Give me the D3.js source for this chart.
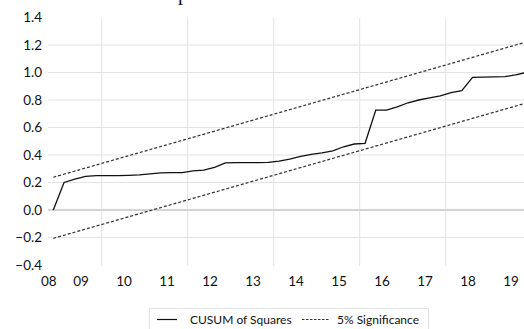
<!DOCTYPE html>
<html>
<head>
<meta charset="utf-8">
<script src="https://cdn.jsdelivr.net/npm/d3@7"></script>
<style>
  body { margin: 0; background: #fff; }
  svg { display: block; }
</style>
</head>
<body>
<div id="chart"></div>
<script>
// Quarter index of each observation (0 = first quarter of the sample)
var quarterIdx = d3.range(0, 45);

// CUSUM of squares, one value per quarter
var cusum = [0, 0.20, 0.225, 0.245, 0.25, 0.25, 0.25, 0.252, 0.255, 0.262,
  0.27, 0.272, 0.272, 0.285, 0.29, 0.31, 0.342, 0.345, 0.345, 0.345,
  0.346, 0.355, 0.37, 0.39, 0.405, 0.415, 0.43, 0.46, 0.48, 0.485,
  0.727, 0.727, 0.75, 0.78, 0.80, 0.815, 0.83, 0.853, 0.868, 0.965,
  0.967, 0.968, 0.97, 0.982, 1.0];

// 5% significance bands (straight lines, start and end of sample)
var bandIdx = [0, 44];
var upperBand = [0.238, 1.222];
var lowerBand = [-0.206, 0.778];

// axis ticks
var yTicks = [1.4, 1.2, 1.0, 0.8, 0.6, 0.4, 0.2, 0.0, -0.2, -0.4];
var yGrid = [1.2, 1.0, 0.8, 0.6, 0.4, 0.2, -0.2];
var xLabels = ["08", "09", "10", "11", "12", "13", "14", "15", "16", "17", "18", "19"];
var xLabelIdx = [0, 3, 7, 11, 15, 19, 23, 27, 31, 35, 39, 43];
var xGrid = [4.5, 12.5, 20.5, 28.5, 36.5];

var width = 524, height = 329;
var plot = { left: 48, right: 524, top: 18, bottom: 266 };

var svg = d3.select("#chart")
  .append("svg")
  .attr("width", width)
  .attr("height", height);

var x = d3.scaleLinear()
  .domain([0, 44])
  .range([53.3, 526.3]);

var y = d3.scaleLinear()
  .domain([-0.4, 1.4])
  .range([265, 17.5]);

var font = "Lato, 'Open Sans', sans-serif";

// cropped title fragment at the very top (only its descender shows)
svg.append("text")
  .attr("x", 178)
  .attr("y", -0.5)
  .attr("font-family", "'Liberation Serif', serif")
  .attr("font-size", 20)
  .attr("fill", "#111")
  .text("p");

// gridlines
svg.selectAll(".hgrid")
  .data(yGrid)
  .enter()
  .append("line")
  .attr("x1", plot.left)
  .attr("x2", plot.right)
  .attr("y1", function(d) { return y(d); })
  .attr("y2", function(d) { return y(d); })
  .attr("stroke", "#e3e3e3")
  .attr("stroke-width", 1);

svg.selectAll(".vgrid")
  .data(xGrid)
  .enter()
  .append("line")
  .attr("x1", function(d) { return x(d); })
  .attr("x2", function(d) { return x(d); })
  .attr("y1", plot.top)
  .attr("y2", plot.bottom)
  .attr("stroke", "#e3e3e3")
  .attr("stroke-width", 1);

// zero axis line
svg.append("line")
  .attr("x1", plot.left)
  .attr("x2", plot.right)
  .attr("y1", y(0))
  .attr("y2", y(0))
  .attr("stroke", "#d4d4d4")
  .attr("stroke-width", 2);

// y labels
svg.selectAll(".ylab")
  .data(yTicks)
  .enter()
  .append("text")
  .attr("x", 42)
  .attr("y", function(d) { return y(d); })
  .attr("dy", "0.36em")
  .attr("text-anchor", "end")
  .attr("font-family", font)
  .attr("font-size", 13.5)
  .attr("fill", "#111")
  .text(function(d) { return d3.format(".1f")(d); });

// x labels
svg.selectAll(".xlab")
  .data(xLabels)
  .enter()
  .append("text")
  .attr("x", function(d, i) { return x(xLabelIdx[i]) - 4.5; })
  .attr("y", 285.5)
  .attr("text-anchor", "middle")
  .attr("font-family", font)
  .attr("font-size", 13.5)
  .attr("fill", "#111")
  .text(function(d) { return d; });

// bands
var band = d3.line()
  .x(function(d, i) { return x(bandIdx[i]); })
  .y(function(d) { return y(d); });

[upperBand, lowerBand].forEach(function(b) {
  svg.append("path")
    .datum(b)
    .attr("d", band)
    .attr("fill", "none")
    .attr("stroke", "#333")
    .attr("stroke-width", 1.2)
    .attr("stroke-dasharray", "3,2");
});

// CUSUM line
var line = d3.line()
  .x(function(d, i) { return x(quarterIdx[i]); })
  .y(function(d) { return y(d); });

svg.append("path")
  .datum(cusum)
  .attr("d", line)
  .attr("fill", "none")
  .attr("stroke", "#111")
  .attr("stroke-width", 1.3);

// legend
var legend = svg.append("g");
legend.append("rect")
  .attr("x", 149.5)
  .attr("y", 308.5)
  .attr("width", 279)
  .attr("height", 30)
  .attr("fill", "#fff")
  .attr("stroke", "#e3e3e3");

legend.append("line")
  .attr("x1", 157).attr("x2", 177)
  .attr("y1", 319.5).attr("y2", 319.5)
  .attr("stroke", "#111")
  .attr("stroke-width", 1.2);

legend.append("text")
  .attr("x", 190)
  .attr("y", 323.5)
  .attr("font-family", font)
  .attr("font-size", 12)
  .attr("fill", "#111")
  .text("CUSUM of Squares");

legend.append("line")
  .attr("x1", 302).attr("x2", 329)
  .attr("y1", 319.5).attr("y2", 319.5)
  .attr("stroke", "#333")
  .attr("stroke-width", 1.1)
  .attr("stroke-dasharray", "2.5,1.5");

legend.append("text")
  .attr("x", 337)
  .attr("y", 323.5)
  .attr("font-family", font)
  .attr("font-size", 12)
  .attr("fill", "#111")
  .text("5% Significance");
</script>
</body>
</html>
